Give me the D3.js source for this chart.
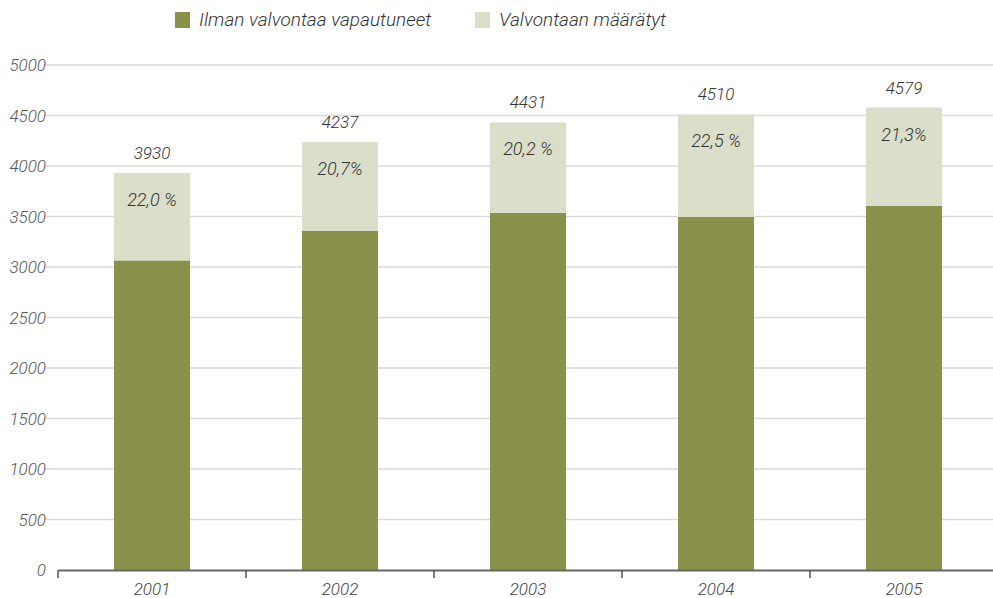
<!DOCTYPE html>
<html>
<head>
<meta charset="utf-8">
<script src="https://cdn.jsdelivr.net/npm/d3@7"></script>
<style>
  body { margin: 0; background: #fff; }
  text { font-family: Roboto, "Liberation Sans", sans-serif; font-style: italic; font-weight: 300; }
</style>
</head>
<body>
<div id="chart"></div>
<script>
// data
var years = ["2001", "2002", "2003", "2004", "2005"];
var exempt = [3065, 3360, 3536, 3495, 3604];      // Ilman valvontaa vapautuneet
var supervised = [865, 877, 895, 1015, 975];      // Valvontaan määrätyt
var totals = [3930, 4237, 4431, 4510, 4579];
var shares = ["22,0 %", "20,7%", "20,2 %", "22,5 %", "21,3%"];
var yTicks = [0, 500, 1000, 1500, 2000, 2500, 3000, 3500, 4000, 4500, 5000];
var seriesNames = ["Ilman valvontaa vapautuneet", "Valvontaan määrätyt"];
var colors = ["#8a914b", "#dbdec8"];

var width = 993, height = 598;
var svg = d3.select("#chart").append("svg")
  .attr("width", width).attr("height", height);

var x = d3.scaleBand().domain(years).range([58, 998]);
var y = d3.scaleLinear().domain([0, 5000]).range([570, 65]);
var barW = 76;

// gridlines
svg.selectAll(".grid").data(yTicks.slice(1)).enter().append("line")
  .attr("x1", 44).attr("x2", width)
  .attr("y1", function(d) { return y(d); }).attr("y2", function(d) { return y(d); })
  .attr("stroke", "#d9d9d9").attr("stroke-width", 1.5);

// y labels
svg.selectAll(".ylab").data(yTicks).enter().append("text")
  .attr("x", 46).attr("y", function(d) { return y(d) + 6; })
  .attr("text-anchor", "end")
  .style("font-size", "17px").attr("fill", "#555")
  .text(function(d) { return d; });

var rows = years.map(function(yr, i) {
  return { year: yr, exempt: exempt[i], supervised: supervised[i] };
});
var stack = d3.stack().keys(["exempt", "supervised"])(rows);

svg.selectAll(".layer").data(stack).enter().append("g")
  .attr("fill", function(d, i) { return colors[i]; })
  .selectAll("rect").data(function(d) { return d; }).enter().append("rect")
  .attr("x", function(d) { return x(d.data.year) + (x.bandwidth() - barW) / 2; })
  .attr("width", barW)
  .attr("y", function(d) { return y(d[1]); })
  .attr("height", function(d) { return y(d[0]) - y(d[1]); });

// total labels
svg.selectAll(".tot").data(years).enter().append("text")
  .attr("x", function(d) { return x(d) + x.bandwidth() / 2; })
  .attr("y", function(d, i) { return y(totals[i]) - 14; })
  .attr("text-anchor", "middle")
  .style("font-size", "17px").attr("fill", "#333")
  .text(function(d, i) { return totals[i]; });

// share labels
svg.selectAll(".pct").data(years).enter().append("text")
  .attr("x", function(d) { return x(d) + x.bandwidth() / 2; })
  .attr("y", function(d, i) { return y(totals[i]) + 33; })
  .attr("text-anchor", "middle")
  .style("font-size", "18px").attr("fill", "#333")
  .text(function(d, i) { return shares[i]; });

// x axis
var xAxis = svg.append("g").attr("transform", "translate(0,570)")
  .call(d3.axisBottom(x).tickSize(0).tickPadding(13));
xAxis.select(".domain").attr("stroke", "#666").attr("stroke-width", 2);
xAxis.selectAll("text").style("font-size", "17px").attr("fill", "#444")
  .style("font-family", "Roboto, 'Liberation Sans', sans-serif")
  .style("font-style", "italic").style("font-weight", 300);
xAxis.selectAll(".sep").data(years).enter().append("line")
  .attr("x1", function(d) { return x(d); }).attr("x2", function(d) { return x(d); })
  .attr("y1", 0).attr("y2", 8).attr("stroke", "#555").attr("stroke-width", 1.5);

// legend
var legX = [175, 475];
var leg = svg.selectAll(".leg").data(seriesNames).enter().append("g")
  .attr("transform", function(d, i) { return "translate(" + legX[i] + ",12)"; });
leg.append("rect").attr("width", 15).attr("height", 16)
  .attr("fill", function(d, i) { return colors[i]; });
leg.append("text").attr("x", 24).attr("y", 14)
  .style("font-size", "19px").attr("fill", "#333")
  .text(function(d) { return d; });
</script>
</body>
</html>
